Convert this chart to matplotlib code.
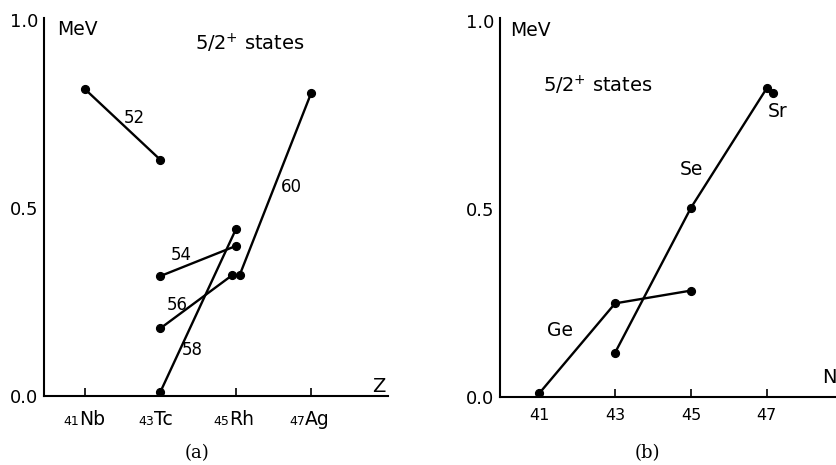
import matplotlib
matplotlib.use("Agg")
import matplotlib.pyplot as plt

plt.rcParams['font.family'] = ['DejaVu Sans']
plt.rcParams['mathtext.fontset'] = 'dejavusans'

# (a) 5/2+ energies vs Z, joined along isotones N = 52 ... 60
iso_labels = ["52", "54", "56", "58", "60"]
iso_z = [[41, 43], [43, 45], [43, 44.9], [43, 45], [45.1, 47]]
iso_e = [[0.816, 0.628], [0.319, 0.399], [0.180, 0.321], [0.011, 0.443], [0.321, 0.806]]
iso_label_pos = [(42.32, 0.740), (43.55, 0.375), (43.44, 0.242), (43.84, 0.122), (46.48, 0.556)]

z_ticks = [41, 43, 45, 47]
z_numbers = ["41", "43", "45", "47"]
z_symbols = ["Nb", "Tc", "Rh", "Ag"]

# (b) 5/2+ energies vs N, joined along isotopes
ge_n = [41, 43, 45]
ge_e = [0.010, 0.249, 0.283]
se_n = [43, 45, 47]
se_e = [0.118, 0.503, 0.821]
sr_n = [47.17]
sr_e = [0.808]
elem_labels = ["Ge", "Se", "Sr"]
elem_label_pos = [(41.55, 0.176), (45.02, 0.604), (47.30, 0.759)]

n_ticks = [41, 43, 45, 47]
y_ticks = [0.0, 0.5, 1.0]
y_ticklabels = ["0.0", "0.5", "1.0"]

line_kw = dict(color='black', lw=1.7, marker='o', ms=5.6, solid_capstyle='round')

fig = plt.figure(figsize=(8.37, 4.65), dpi=100)
ax_a = fig.add_axes([0.05257, 0.14839, 0.4110, 0.8129])
ax_b = fig.add_axes([0.5974, 0.14624, 0.4026, 0.8151])


def style_axes(ax, xlim, ylim_top):
    ax.set_xlim(*xlim)
    ax.set_ylim(0, ylim_top)
    for side in ['top', 'right']:
        ax.spines[side].set_visible(False)
    for side in ['left', 'bottom']:
        ax.spines[side].set_linewidth(1.5)
    ax.set_yticks(y_ticks)
    ax.set_yticklabels(y_ticklabels)
    ax.tick_params(axis='y', length=0, pad=4, labelsize=13)
    ax.tick_params(axis='x', direction='in', length=6, width=1.2)
    ax.patch.set_visible(False)


# panel (a)
style_axes(ax_a, (39.9125, 49.037), 1.0053)
for z, e in zip(iso_z, iso_e):
    ax_a.plot(z, e, **line_kw)
for lab, (x, y) in zip(iso_labels, iso_label_pos):
    ax_a.text(x, y, lab, ha='center', va='center', fontsize=12)

ax_a.set_xticks(z_ticks)
ax_a.set_xticklabels([])
for z, num, sym in zip(z_ticks, z_numbers, z_symbols):
    ax_a.annotate(num, xy=(z, 0), xycoords=ax_a.get_xaxis_transform(),
                  xytext=(-4.5, -21), textcoords='offset points',
                  ha='right', va='baseline', fontsize=9)
    ax_a.annotate(sym, xy=(z, 0), xycoords=ax_a.get_xaxis_transform(),
                  xytext=(-4.5, -21), textcoords='offset points',
                  ha='left', va='baseline', fontsize=13.5)

ax_a.text(40.26, 0.96, "MeV", ha='left', va='baseline', fontsize=13.5)
ax_a.text(43.92, 0.92, r"5/2$^{+}$ states", ha='left', va='baseline', fontsize=14)
ax_a.text(48.61, 0.011, "Z", ha='left', va='baseline', fontsize=14, clip_on=False)

# panel (b)
style_axes(ax_b, (39.963, 48.855), 1.008)
ax_b.plot(ge_n, ge_e, **line_kw)
ax_b.plot(se_n, se_e, **line_kw)
ax_b.plot(sr_n, sr_e, **line_kw)
for lab, (x, y) in zip(elem_labels, elem_label_pos):
    ax_b.text(x, y, lab, ha='center', va='center', fontsize=13.5)

ax_b.set_xticks(n_ticks)
ax_b.set_xticklabels([str(n) for n in n_ticks])
ax_b.tick_params(axis='x', pad=8, labelsize=11.5)

ax_b.text(40.23, 0.96, "MeV", ha='left', va='baseline', fontsize=13.5)
ax_b.text(41.10, 0.81, r"5/2$^{+}$ states", ha='left', va='baseline', fontsize=14)
ax_b.text(48.46, 0.037, "N", ha='left', va='baseline', fontsize=14, clip_on=False)

fig.text(197 / 837, 1 - 453 / 465, "(a)", ha='center', va='center',
         fontsize=13, family='DejaVu Serif')
fig.text(647 / 837, 1 - 453 / 465, "(b)", ha='center', va='center',
         fontsize=13, family='DejaVu Serif')

fig.savefig("out.png", dpi=100)
